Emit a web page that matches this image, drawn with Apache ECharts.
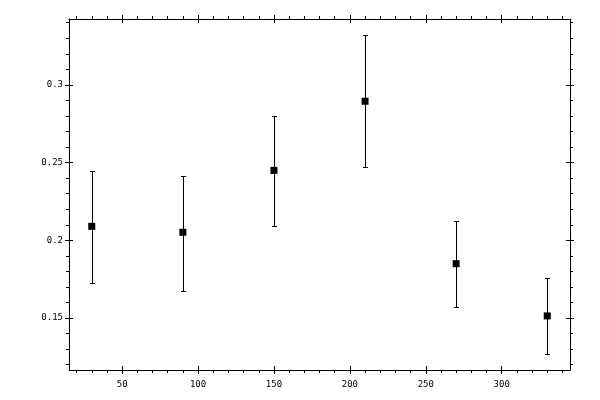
<!DOCTYPE html>
<html>
<head>
<meta charset="utf-8">
<script src="https://cdn.jsdelivr.net/npm/echarts@6/dist/echarts.min.js"></script>
<style>html,body{margin:0;padding:0;background:#fff}#c{width:600px;height:400px}</style>
</head>
<body>
<div id="c"></div>
<script>
const xValues = [30, 90, 150, 210, 270, 330];
const yValues = [0.209, 0.2052, 0.245, 0.2895, 0.185, 0.1514];
const yUpper = [0.2447, 0.2417, 0.2798, 0.3321, 0.2127, 0.1759];
const yLower = [0.1727, 0.1676, 0.2095, 0.2469, 0.1572, 0.1269];

const xMajorTicks = [50, 100, 150, 200, 250, 300];
const xMinorTicks = [20, 30, 40, 60, 70, 80, 90, 110, 120, 130, 140, 160, 170, 180, 190, 210, 220, 230, 240, 260, 270, 280, 290, 310, 320, 330, 340];
const yMajorTicks = [0.15, 0.2, 0.25, 0.3];
const yMinorTicks = [0.12, 0.13, 0.14, 0.16, 0.17, 0.18, 0.19, 0.21, 0.22, 0.23, 0.24, 0.26, 0.27, 0.28, 0.29, 0.31, 0.32, 0.33, 0.34];

const xMin = 15, xMax = 345;
const yMin = 0.1166, yMax = 0.3424;

const FONT = 'DejaVu Sans Mono';

function mkAxis(pos, min, max, ticks, opts) {
  return {
    type: 'value', position: pos, min: min, max: max,
    splitLine: { show: false },
    axisLine: { show: !!opts.line, onZero: false, lineStyle: { color: '#000', width: 1 } },
    axisTick: { show: true, customValues: ticks, inside: !!opts.inside, length: opts.len, lineStyle: { color: '#000', width: 1 } },
    axisLabel: opts.labels ? { show: true, customValues: ticks, color: '#000', fontFamily: FONT, fontSize: 9, margin: opts.margin } : { show: false },
    axisPointer: { show: false }
  };
}

const xAxes = [
  mkAxis('bottom', xMin, xMax, xMajorTicks, { line: true, labels: true, len: 4, margin: 10 }),
  mkAxis('bottom', xMin, xMax, xMajorTicks, { inside: true, len: 4 }),
  mkAxis('bottom', xMin, xMax, xMinorTicks, { len: 3 }),
  mkAxis('top', xMin, xMax, xMajorTicks, { line: true, len: 4 }),
  mkAxis('top', xMin, xMax, xMajorTicks, { inside: true, len: 4 }),
  mkAxis('top', xMin, xMax, xMinorTicks, { len: 3 })
];
const yAxes = [
  mkAxis('left', yMin, yMax, yMajorTicks, { line: true, labels: true, len: 4, margin: 6 }),
  mkAxis('left', yMin, yMax, yMajorTicks, { inside: true, len: 4 }),
  mkAxis('left', yMin, yMax, yMinorTicks, { len: 3 }),
  mkAxis('right', yMin, yMax, yMajorTicks, { line: true, len: 4 }),
  mkAxis('right', yMin, yMax, yMajorTicks, { inside: true, len: 4 }),
  mkAxis('right', yMin, yMax, yMinorTicks, { len: 3 })
];

const errData = xValues.map((x, i) => [x, yLower[i], yUpper[i]]);
const ptData = xValues.map((x, i) => [x, yValues[i]]);

const chart = echarts.init(document.getElementById('c'), null, { renderer: 'canvas' });
chart.setOption({
  animation: false,
  backgroundColor: '#fff',
  grid: { left: 69, right: 30, top: 19, bottom: 30 },
  xAxis: xAxes,
  yAxis: yAxes,
  series: [
    {
      type: 'custom',
      xAxisIndex: 0, yAxisIndex: 0,
      data: errData,
      renderItem: function (params, api) {
        const lo = api.coord([api.value(0), api.value(1)]);
        const hi = api.coord([api.value(0), api.value(2)]);
        const cx = Math.round(lo[0]) + 0.5;
        const y1 = Math.round(lo[1]) + 0.5;
        const y2 = Math.round(hi[1]) + 0.5;
        const hw = 2.5;
        const st = { stroke: '#000', lineWidth: 1 };
        return {
          type: 'group',
          children: [
            { type: 'line', shape: { x1: cx, y1: y1, x2: cx, y2: y2 }, style: st },
            { type: 'line', shape: { x1: cx - hw, y1: y1, x2: cx + hw, y2: y1 }, style: st },
            { type: 'line', shape: { x1: cx - hw, y1: y2, x2: cx + hw, y2: y2 }, style: st }
          ]
        };
      },
      z: 2
    },
    {
      type: 'scatter',
      xAxisIndex: 0, yAxisIndex: 0,
      data: ptData,
      symbol: 'rect',
      symbolSize: 7,
      itemStyle: { color: '#000', opacity: 1 },
      emphasis: { disabled: true },
      z: 3
    }
  ]
});
</script>
</body>
</html>
